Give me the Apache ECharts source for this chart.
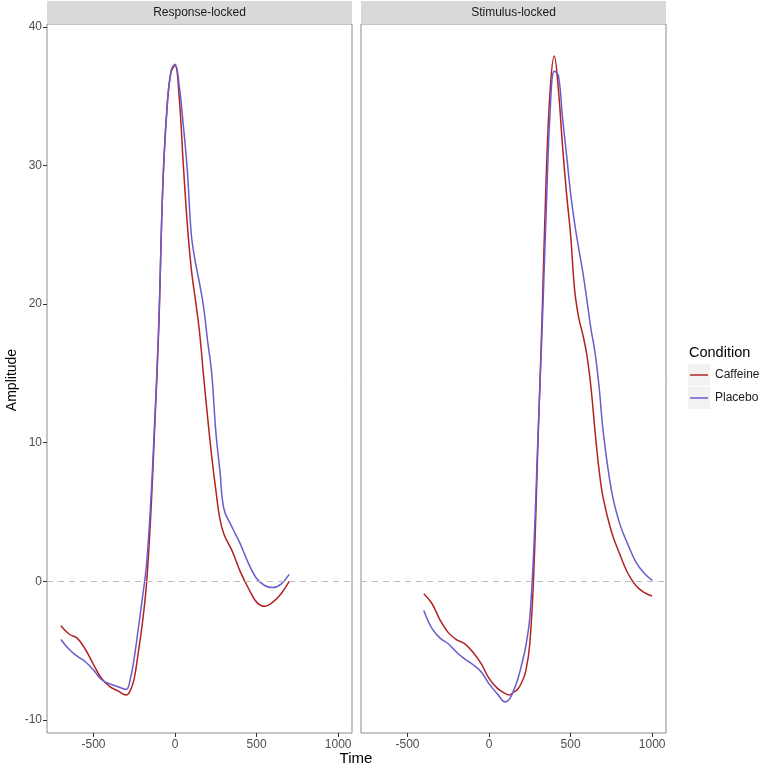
<!DOCTYPE html>
<html>
<head>
<meta charset="utf-8">
<script src="https://cdn.jsdelivr.net/npm/echarts@6/dist/echarts.min.js"></script>
<style>
  html, body { margin: 0; padding: 0; background: #fff; }
  #chart { width: 761px; height: 769px; }
</style>
</head>
<body>
<div id="chart"></div>
<script>
// panels and conditions
var panels = ['Response-locked', 'Stimulus-locked']
var conditions = ['Caffeine', 'Placebo']

// time samples (ms)
var timesResp = [-700,-650,-600,-550,-500,-450,-400,-350,-300,-275,-250,-225,-200,-175,-150,-125,-100,-75,-50,-25,0,25,50,75,100,125,150,175,200,225,250,275,300,350,400,450,500,550,600,650,700]
var timesStim = [-400,-350,-300,-250,-200,-150,-100,-50,0,50,100,125,150,175,200,225,250,275,300,325,350,375,400,425,450,475,500,525,550,575,600,625,650,675,700,750,800,850,900,950,1000]

// amplitudes
var caffeineResp = [-3.2,-3.8,-4.1,-4.9,-6.0,-7.0,-7.6,-7.9,-8.2,-7.9,-7.0,-5.1,-3.0,-0.2,4.5,11,18.2,28.5,34,36.7,37.2,35,30.2,25.8,22.5,20.3,18,14.8,11.8,9.0,6.6,4.5,3.4,2.2,0.7,-0.5,-1.5,-1.8,-1.5,-0.9,0]
var placeboResp = [-4.2,-4.9,-5.4,-5.8,-6.4,-7.1,-7.4,-7.6,-7.8,-7.1,-5.5,-3.4,-1.2,1.2,5.5,11.5,18.5,28.5,34,36.8,37.3,35.8,33,29.7,25,23,21.5,19.8,17.3,15,10.8,8,5.2,3.9,2.7,1.3,0.2,-0.3,-0.45,-0.2,0.5]
var caffeineStim = [-0.9,-1.6,-2.8,-3.7,-4.2,-4.5,-5.1,-5.9,-7.0,-7.7,-8.1,-8.2,-8.0,-7.8,-7.3,-6.5,-4.5,0.8,10,19,29,35.5,37.9,35.5,31.5,28,25,21,19,17.8,16.3,14,10.8,8,6,3.6,2,0.6,-0.3,-0.8,-1.06]
var placeboStim = [-2.1,-3.4,-4.1,-4.5,-5.1,-5.6,-6.0,-6.5,-7.4,-8.1,-8.7,-8.5,-7.9,-7.1,-6.0,-4.7,-2.6,2.5,10.5,18,26.5,34,36.8,36.5,33.5,30.8,28,25.8,24,22.3,20.3,18.2,16.5,14,10.8,6.6,4.2,2.7,1.4,0.6,0.07]

// axis ticks
var xTicks = [-500, 0, 500, 1000]
var yTicks = [-10, 0, 10, 20, 30, 40]

var colors = ['#b22222', '#6a5acd']
var font = '"Liberation Sans", Arial, sans-serif'

function zip(xs, ys) {
    return xs.map(function (x, i) { return [x, ys[i]] })
}

var grids = [
    { left: 47, top: 24, width: 305, height: 709 },
    { left: 361, top: 24, width: 305, height: 709 }
]

var chart = echarts.init(document.getElementById('chart'))

var xAxes = grids.map(function (g, i) {
    return {
        type: 'value', gridIndex: i, min: -785, max: 1085, position: 'bottom',
        splitLine: { show: false },
        axisLine: { show: false, onZero: false },
        axisTick: { show: true, customValues: xTicks, length: 4, lineStyle: { color: '#333' } },
        axisLabel: {
            customValues: xTicks, color: '#4d4d4d', fontSize: 12, fontFamily: font, margin: 6,
            formatter: function (v) { return String(v) }
        }
    }
})
var yAxes = grids.map(function (g, i) {
    return {
        type: 'value', gridIndex: i, min: -10.94, max: 40.2, position: 'left',
        splitLine: { show: false },
        axisLine: { show: false, onZero: false },
        axisTick: { show: i === 0, customValues: yTicks, length: 4, lineStyle: { color: '#333' } },
        axisLabel: { show: i === 0, customValues: yTicks, color: '#4d4d4d', fontSize: 12, fontFamily: font, margin: 5 }
    }
})

function lineSeries(name, idx, data, color) {
    return {
        name: name, type: 'line', xAxisIndex: idx, yAxisIndex: idx,
        data: data, showSymbol: false, symbol: 'none', smooth: 0.4,
        lineStyle: { color: color, width: 1.5 }, itemStyle: { color: color },
        z: 3
    }
}

var zeroLine = function (idx) {
    return {
        type: 'line', xAxisIndex: idx, yAxisIndex: idx, data: [],
        markLine: {
            silent: true, symbol: 'none', label: { show: false },
            lineStyle: { color: '#bdbdbd', type: [6, 5], width: 1.2 },
            data: [{ yAxis: 0 }]
        }
    }
}

var series = [
    zeroLine(0), zeroLine(1),
    lineSeries(conditions[0], 0, zip(timesResp, caffeineResp), colors[0]),
    lineSeries(conditions[1], 0, zip(timesResp, placeboResp), colors[1]),
    lineSeries(conditions[0], 1, zip(timesStim, caffeineStim), colors[0]),
    lineSeries(conditions[1], 1, zip(timesStim, placeboStim), colors[1])
]

var graphics = []
grids.forEach(function (g, i) {
    graphics.push({
        type: 'rect', shape: { x: g.left, y: 1, width: g.width, height: 23 },
        style: { fill: '#d9d9d9' }, z: 0
    })
    graphics.push({
        type: 'text', x: g.left + g.width / 2, y: 12.5,
        style: { text: panels[i], fill: '#1a1a1a', font: '12px ' + font, align: 'center', verticalAlign: 'middle' }
    })
})
graphics.push({
    type: 'text', x: 12, y: 380, rotation: Math.PI / 2,
    style: { text: 'Amplitude', fill: '#000', font: '14px ' + font, align: 'center', verticalAlign: 'middle' }
})
graphics.push({
    type: 'text', x: 356, y: 759,
    style: { text: 'Time', fill: '#000', font: '15px ' + font, align: 'center', verticalAlign: 'middle' }
})
graphics.push({
    type: 'text', x: 689, y: 353,
    style: { text: 'Condition', fill: '#000', font: '14.5px ' + font, align: 'left', verticalAlign: 'middle' }
})
graphics.push({ type: 'rect', shape: { x: 688, y: 364, width: 22, height: 22 }, style: { fill: '#f2f2f2' }, z: 0 })
graphics.push({ type: 'rect', shape: { x: 688, y: 387, width: 22, height: 22 }, style: { fill: '#f2f2f2' }, z: 0 })

chart.setOption({
    animation: false,
    backgroundColor: '#fff',
    grid: grids.map(function (g) {
        return { left: g.left, top: g.top, width: g.width, height: g.height, show: true, borderColor: '#8c8c8c', borderWidth: 1, backgroundColor: '#fff' }
    }),
    xAxis: xAxes,
    yAxis: yAxes,
    legend: {
        data: conditions, orient: 'vertical', left: 690, top: 369,
        icon: 'rect', itemWidth: 18, itemHeight: 1.5, itemGap: 11, padding: 0,
        textStyle: { color: '#1a1a1a', fontSize: 12, fontFamily: font, padding: [0, 0, 0, 2] },
        selectedMode: false
    },
    graphic: graphics,
    series: series
})

window.addEventListener('resize', function () { chart.resize() })
</script>
</body>
</html>
